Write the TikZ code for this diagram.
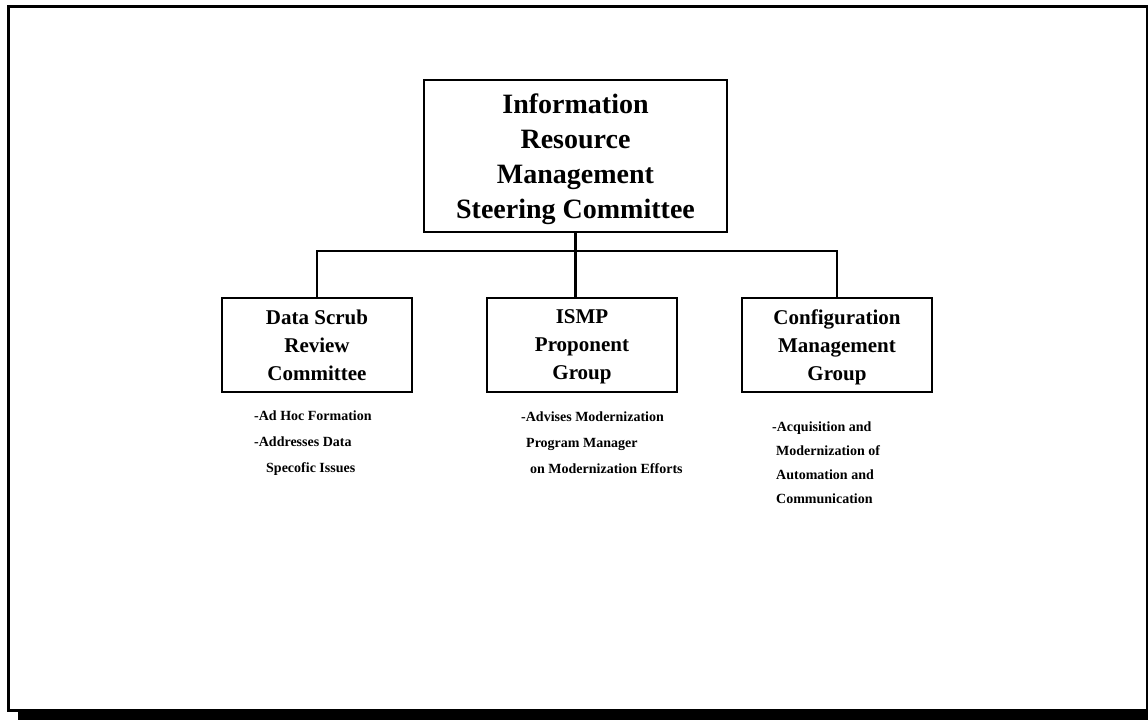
\documentclass[tikz,border=0pt]{standalone}
\usepackage{fontspec}
\setmainfont{Liberation Serif}
\usepackage{tikz}
\usetikzlibrary{positioning, calc}

\begin{document}
\begin{tikzpicture}[x=1pt, y=1pt,
  orgbox/.style={draw, line width=2.8pt, align=center, inner sep=0pt, text depth=0pt},
  topfont/.style={font=\fontsize{28}{35}\selectfont\bfseries},
  subfont/.style={font=\fontsize{21}{28}\selectfont\bfseries},
  note/.style={align=left, inner sep=0pt, anchor=north west},
  link/.style={line width=2.6pt}]
  \useasboundingbox (0,0) rectangle (1148,720);
  \draw[line width=3pt] (1147,713.5) -- (8.5,713.5) -- (8.5,9.5) -- (1147,9.5);
  \draw[line width=1.8pt] (1147,714.5) -- (1147,8.5);
  \fill (18,0) rectangle (1148,9);
  % committee and its three groups
  \node[orgbox, topfont, minimum width=303, minimum height=152] (irm) at (575.5,564)
    {Information\\Resource\\Management\\Steering Committee};
  \node[orgbox, subfont, minimum width=190, minimum height=94] (ds) at (317,375)
    {Data Scrub\\Review\\Committee};
  \node[orgbox, subfont, minimum width=190, minimum height=94] (ismp) at (582,375)
    {ISMP\\Proponent\\Group};
  \node[orgbox, subfont, minimum width=190, minimum height=94] (cmg) at (837,375)
    {Configuration\\Management\\Group};
  \coordinate (bar) at (577,469);
  \draw[link] (irm.south) -- (irm.south |- ismp.north);
  \draw[link] (ds.north) |- (irm.south |- bar) -| (cmg.north);
  % notes under the boxes
  \node[note, font=\fontsize{14}{26}\selectfont\bfseries] (dsnote) at (254,309)
    {-Ad Hoc Formation\\-Addresses Data\\\hspace*{12pt}Specofic Issues};
  \node[note, font=\fontsize{14}{26}\selectfont\bfseries] (ismpnote) at (521,308)
    {-Advises Modernization\\\hspace*{5pt}Program Manager\\\hspace*{9pt}on Modernization Efforts};
  \node[note, font=\fontsize{14}{24}\selectfont\bfseries] (cmgnote) at (772,298)
    {-Acquisition and\\\hspace*{4pt}Modernization of\\\hspace*{4pt}Automation and\\\hspace*{4pt}Communication};
\end{tikzpicture}
\end{document}
